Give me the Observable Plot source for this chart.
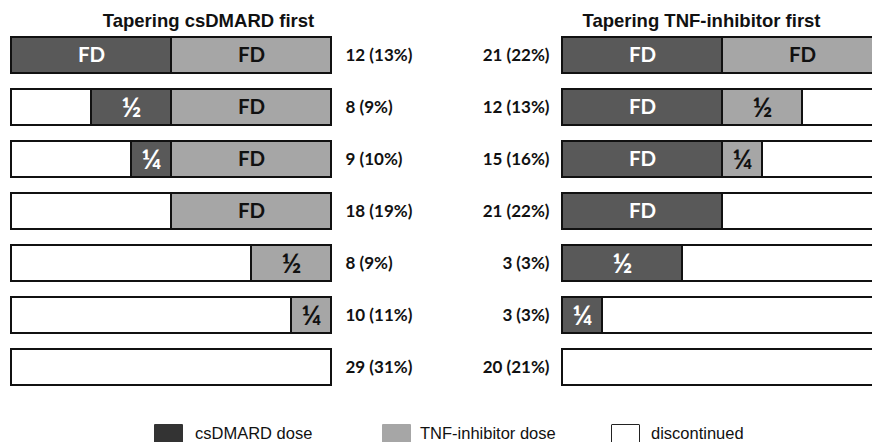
<!DOCTYPE html>
<html>
<head>
<meta charset="utf-8">
<script src="https://cdn.jsdelivr.net/npm/d3@7"></script>
<script src="https://cdn.jsdelivr.net/npm/@observablehq/plot@0.6"></script>
<style>
  html, body { margin: 0; padding: 0; background: #fff; }
  #wrap { position: relative; width: 872px; height: 442px; overflow: hidden; }
  #legend { position: absolute; top: 424px; left: 0; width: 872px; height: 18px; font-family: "Liberation Sans", Arial, sans-serif; font-size: 16.5px; color: #111; }
  .sw { position: absolute; top: 0; width: 29px; height: 22px; box-sizing: border-box; border-radius: 1px; }
  .lt { position: absolute; top: 0px; line-height: 18px; }
</style>
</head>
<body>
<div id="wrap">
  <div id="chart"></div>
  <div id="legend"></div>
</div>
<script>
// ---- data ----
const rows = [0, 1, 2, 3, 4, 5, 6];
const panelTitles = ["Tapering csDMARD first", "Tapering TNF-inhibitor first"];

// Left panel: tapering csDMARD first (segment widths, one half-bar = 1 = full dose)
const csdLeft = [1, 0.5, 0.25, 0, 0, 0, 0];
const tnfLeft = [1, 1, 1, 1, 0.5, 0.25, 0];
const csdLabelLeft = ["FD", "½", "¼", "", "", "", ""];
const tnfLabelLeft = ["FD", "FD", "FD", "FD", "½", "¼", ""];
const nLeft = [12, 8, 9, 18, 8, 10, 29];
const pctLeft = [13, 9, 10, 19, 9, 11, 31];

// Right panel: tapering TNF-inhibitor first
const csdRight = [1, 1, 1, 1, 0.75, 0.25, 0];
const tnfRight = [1, 0.5, 0.25, 0, 0, 0, 0];
const csdLabelRight = ["FD", "FD", "FD", "FD", "½", "¼", ""];
const tnfLabelRight = ["FD", "½", "¼", "", "", "", ""];
const nRight = [21, 12, 15, 21, 3, 3, 20];
const pctRight = [22, 13, 16, 22, 3, 3, 21];

const legendItems = ["csDMARD dose", "TNF-inhibitor dose", "discontinued"];

// ---- build table ----
const rightOffset = 3.44375; // second panel position in half-bar units
const segs = [];
function push(row, x1, x2, kind, label) {
  if (x2 - x1 <= 0) return;
  segs.push({row, x1, x2, kind, label});
}
rows.forEach(r => {
  const c = csdLeft[r], t = tnfLeft[r];
  push(r, 0, 2 - c - t, "discontinued", "");
  push(r, 2 - c - t, 2 - t, "csDMARD", csdLabelLeft[r]);
  push(r, 2 - t, 2, "TNF", tnfLabelLeft[r]);
  const c2 = csdRight[r], t2 = tnfRight[r];
  push(r, rightOffset, rightOffset + c2, "csDMARD", csdLabelRight[r]);
  push(r, rightOffset + c2, rightOffset + c2 + t2, "TNF", tnfLabelRight[r]);
  push(r, rightOffset + c2 + t2, rightOffset + 2, "discontinued", "");
});
const countsLeft = rows.map(r => ({row: r, x: 2, text: `${nLeft[r]} (${pctLeft[r]}%)`}));
const countsRight = rows.map(r => ({row: r, x: rightOffset, text: `${nRight[r]} (${pctRight[r]}%)`}));

const fdLabels = segs.filter(d => d.label === "FD");
const fracLabels = segs.filter(d => d.label && d.label !== "FD");
const labelFill = d => d.kind === "csDMARD" ? "#ffffff" : "#111111";
const titleStyle = {frameAnchor: "top", dy: 21, lineAnchor: "middle",
  fontFamily: "'Liberation Sans', Arial, sans-serif", fontWeight: "bold", fontSize: 18.5, fill: "#111"};

const chart = Plot.plot({
  width: 872,
  height: 412,
  margin: 0,
  style: {background: "#fff", overflow: "hidden"},
  x: {domain: [0, 2], range: [11, 331], axis: null},
  y: {type: "band", domain: rows, range: [28.6, 393.9], paddingInner: 0.31, paddingOuter: 0.155, axis: null},
  color: {domain: ["csDMARD", "TNF", "discontinued"], range: ["#595959", "#a6a6a6", "#ffffff"]},
  marks: [
    Plot.barX(segs, {x1: "x1", x2: "x2", y: "row", fill: "kind", stroke: "#111", strokeWidth: 2}),
    Plot.text(fdLabels, {
      x: d => (d.x1 + d.x2) / 2, y: "row", text: "label", fill: labelFill,
      fontFamily: "Lato, 'Open Sans', sans-serif", fontWeight: "bold", fontSize: 20.5
    }),
    Plot.text(fracLabels, {
      x: d => (d.x1 + d.x2) / 2, y: "row", text: "label", fill: labelFill, dy: 1,
      fontFamily: "Lato, 'Open Sans', sans-serif", fontWeight: "bold", fontSize: 27
    }),
    Plot.text(countsLeft, {x: "x", y: "row", text: "text", dx: 14, textAnchor: "start",
      fontFamily: "Lato, sans-serif", fontWeight: "bold", fontSize: 17, fill: "#111"}),
    Plot.text(countsRight, {x: "x", y: "row", text: "text", dx: -13, textAnchor: "end",
      fontFamily: "Lato, sans-serif", fontWeight: "bold", fontSize: 17, fill: "#111"}),
    Plot.text([panelTitles[0]], {x: [1], text: d => d, dx: 37, ...titleStyle}),
    Plot.text([panelTitles[1]], {x: [rightOffset + 1], text: d => d, dx: -21, ...titleStyle})
  ]
});
document.getElementById("chart").appendChild(chart);

// legend
const legendLayout = [
  {sw: 154, tx: 195, fill: "#333333", border: "none"},
  {sw: 382, tx: 420, fill: "#a6a6a6", border: "none"},
  {sw: 611, tx: 651, fill: "#ffffff", border: "1.5px solid #222"}
];
const lg = document.getElementById("legend");
legendItems.forEach((name, i) => {
  const L = legendLayout[i];
  const s = document.createElement("div");
  s.className = "sw";
  s.style.left = L.sw + "px";
  s.style.background = L.fill;
  s.style.border = L.border;
  lg.appendChild(s);
  const t = document.createElement("div");
  t.className = "lt";
  t.style.left = L.tx + "px";
  t.textContent = name;
  lg.appendChild(t);
});
</script>
</body>
</html>
